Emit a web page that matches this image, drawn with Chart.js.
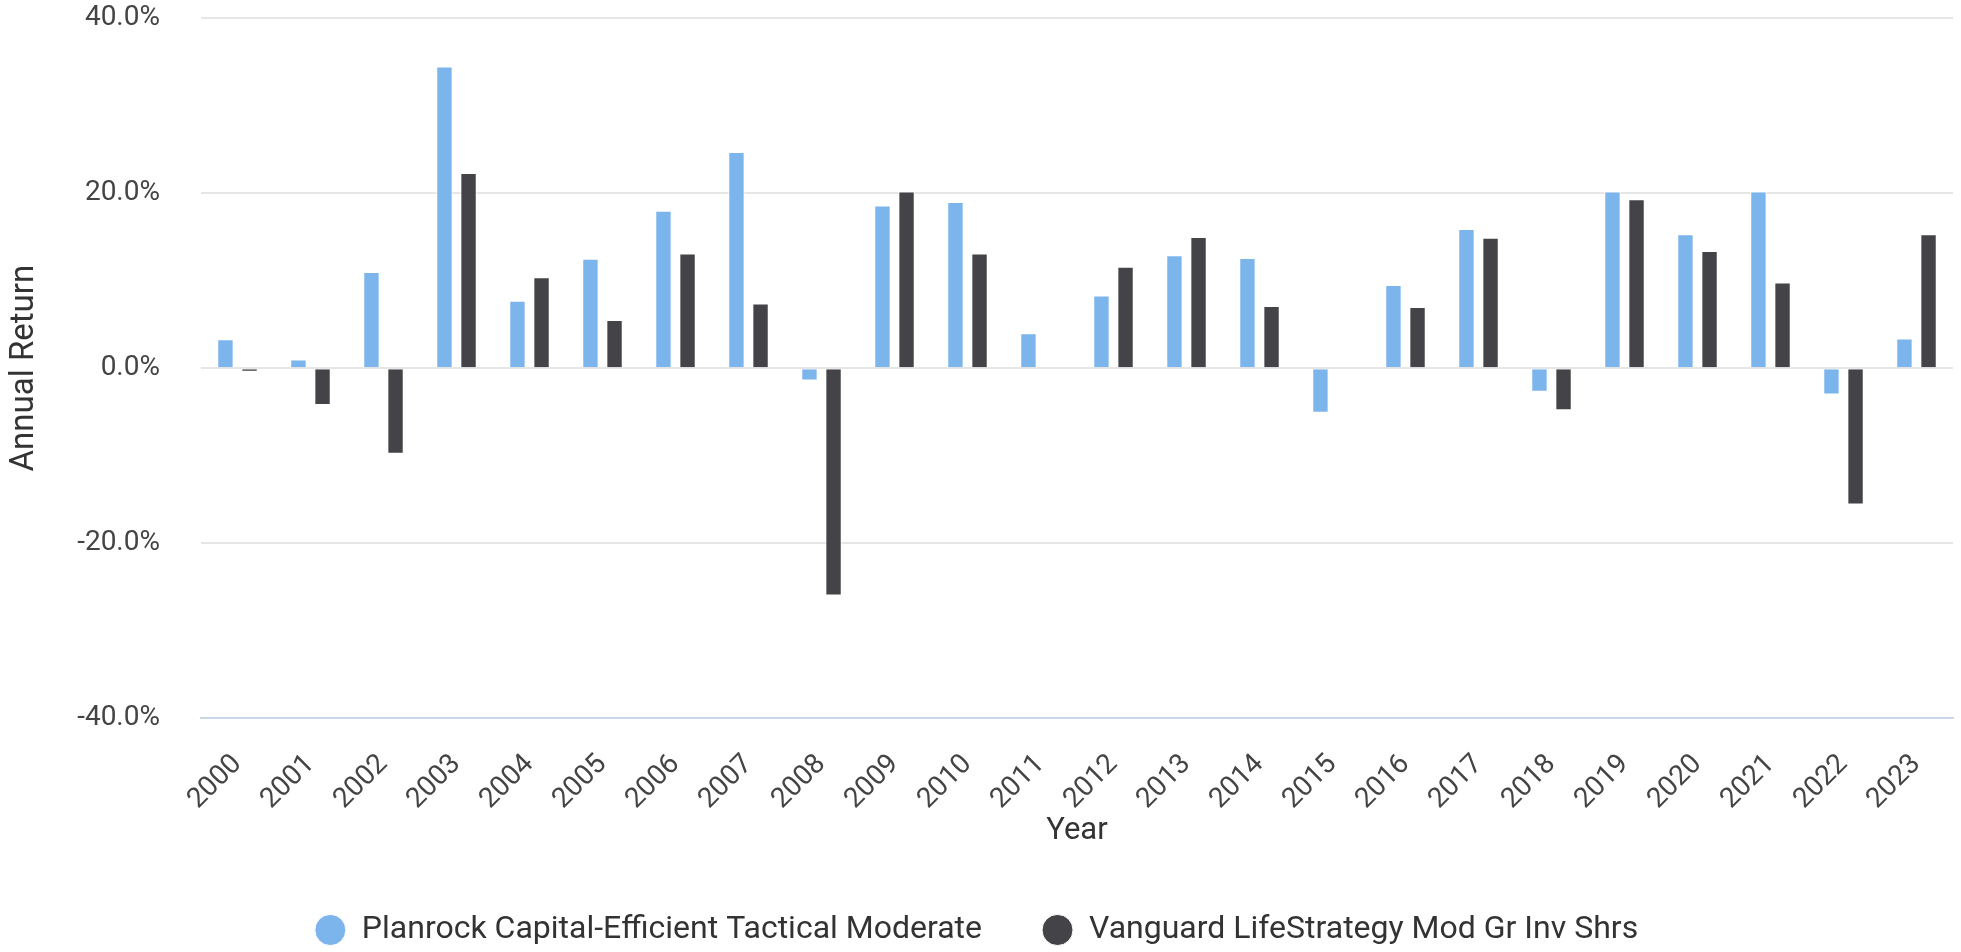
<!DOCTYPE html>
<html>
<head>
<meta charset="utf-8">
<script src="https://cdn.jsdelivr.net/npm/chart.js@4/dist/chart.umd.min.js"></script>
<style>
  html, body { margin: 0; padding: 0; background: #fff; }
  #wrap { width: 1961px; height: 952px; position: relative; }
</style>
</head>
<body>
<div id="wrap"><canvas id="chart"></canvas></div>
<script>
// years on the x axis
const years = ['2000', '2001', '2002', '2003', '2004', '2005', '2006', '2007', '2008', '2009', '2010', '2011',
               '2012', '2013', '2014', '2015', '2016', '2017', '2018', '2019', '2020', '2021', '2022', '2023'];

// annual returns in %
const planrock = [3.3, 1.0, 11.0, 34.5, 7.7, 12.5, 18.0, 24.7, -1.4, 18.6, 19.0, 4.0,
                  8.3, 12.9, 12.6, -5.1, 9.5, 15.9, -2.7, 20.2, 15.3, 20.2, -3.0, 3.4];
const vanguard = [-0.4, -4.2, -9.8, 22.3, 10.4, 5.5, 13.1, 7.4, -26.0, 20.2, 13.1, 0,
                  11.6, 15.0, 7.1, 0, 7.0, 14.9, -4.8, 19.3, 13.4, 9.8, -15.6, 15.3];

const seriesNames = ['Planrock Capital-Efficient Tactical Moderate', 'Vanguard LifeStrategy Mod Gr Inv Shrs'];
const yTicks = [-40, -20, 0, 20, 40];

const fontFamily = 'Roboto, "Liberation Sans", sans-serif';

new Chart(document.getElementById('chart'), {
    type: 'bar',
    data: {
        labels: years,
        datasets: [
            {
                label: seriesNames[0],
                data: planrock,
                backgroundColor: '#7cb5ec',
                borderColor: '#ffffff',
                borderWidth: 1,
                categoryPercentage: 0.66,
                barPercentage: 0.68
            },
            {
                label: seriesNames[1],
                data: vanguard,
                backgroundColor: '#434348',
                borderColor: '#ffffff',
                borderWidth: 1,
                categoryPercentage: 0.66,
                barPercentage: 0.68
            }
        ]
    },
    options: {
        responsive: true,
        maintainAspectRatio: false,
        animation: false,
        devicePixelRatio: 1,
        layout: { padding: { top: 2, right: 8, bottom: -4, left: 0 } },
        plugins: {
            tooltip: { enabled: false },
            legend: {
                position: 'bottom',
                labels: {
                    usePointStyle: true,
                    pointStyle: 'circle',
                    pointStyleWidth: 31,
                    boxHeight: 22,
                    padding: 60,
                    color: '#333333',
                    font: { family: fontFamily, size: 32 }
                }
            }
        },
        scales: {
            x: {
                // invisible tick marks keep the label gap without widening the side padding
                grid: { display: false, drawTicks: true, tickLength: 28 },
                border: { display: true, color: '#ccd6eb', width: 2 },
                ticks: {
                    color: '#444444',
                    font: { family: fontFamily, size: 28 },
                    minRotation: 45,
                    maxRotation: 45,
                    padding: 2
                },
                title: {
                    display: true,
                    text: 'Year',
                    color: '#333333',
                    font: { family: fontFamily, size: 31 },
                    padding: { top: 0, bottom: 4 }
                },
                afterFit: scale => { scale.height = 136; }
            },
            y: {
                min: -40,
                max: 40,
                afterBuildTicks: scale => { scale.ticks = yTicks.map(v => ({ value: v })); },
                grid: { color: '#e6e6e6', lineWidth: 2, drawTicks: true, tickLength: 39.5, tickColor: 'rgba(0,0,0,0)' },
                border: { display: false },
                ticks: {
                    color: '#444444',
                    font: { family: fontFamily, size: 28 },
                    padding: 1.5,
                    callback: v => v.toFixed(1) + '%'
                },
                title: {
                    display: true,
                    text: 'Annual Return',
                    color: '#333333',
                    font: { family: fontFamily, size: 33 },
                    padding: { top: 5, bottom: 0 }
                },
                afterFit: scale => { scale.width = 201; }
            }
        }
    }
});
</script>
</body>
</html>
